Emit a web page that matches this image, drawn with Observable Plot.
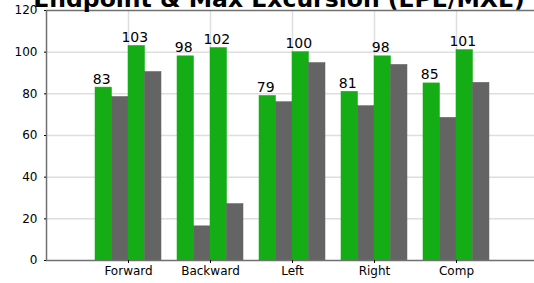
<!DOCTYPE html>
<html><head><meta charset="utf-8">
<script src="https://cdn.jsdelivr.net/npm/d3@7"></script>
<script src="https://cdn.jsdelivr.net/npm/@observablehq/plot@0.6"></script>
<style>
body{margin:0;background:#fff;}
#wrap{position:relative;width:534px;height:283px;overflow:hidden;font-family:"DejaVu Sans",Verdana,sans-serif;}
#title{position:absolute;left:0;top:-12px;width:558px;text-align:center;font-size:23.5px;line-height:23.5px;font-weight:bold;white-space:nowrap;color:#000;z-index:2}
#chart{position:absolute;left:0;top:0}
</style></head>
<body><div id="wrap"><div id="title">Endpoint &amp; Max Excursion (EPE/MXE)</div><div id="chart"></div></div>
<script>
const categories = ["Forward", "Backward", "Left", "Right", "Comp"];
const epe1 = [83, 98, 79, 81, 85];
const mxe1 = [78.5, 16.4, 76, 74.1, 68.5];
const epe2 = [103, 102, 100, 98, 101];
const mxe2 = [90.5, 27.1, 94.8, 93.9, 85.3];
const yTicks = [0, 20, 40, 60, 80, 100, 120];

const GREEN = "#15ad15", GRAY = "#646464";
const series = [
  {values: epe1, fill: GREEN, label: true},
  {values: mxe1, fill: GRAY, label: false},
  {values: epe2, fill: GREEN, label: true},
  {values: mxe2, fill: GRAY, label: false}
];
const edges = [0, 16.5, 33, 49.5, 66];
const marks = [
  Plot.ruleY(yTicks.slice(1, -1), {stroke: "#dedede", strokeWidth: 1.5}),
  Plot.gridX({stroke: "#dedede", strokeOpacity: 1, strokeWidth: 1.5}),
];
series.forEach((s, k) => {
  marks.push(Plot.barY(categories, {
    x: d => d, y: (d, i) => s.values[i], fill: s.fill, stroke: s.fill, strokeWidth: 0.5,
    insetLeft: edges[k], insetRight: 66 - edges[k + 1]
  }));
  if (s.label) marks.push(Plot.text(categories, {
    x: d => d, y: (d, i) => s.values[i], text: (d, i) => String(Math.round(s.values[i])),
    dx: -33 + (edges[k] + edges[k + 1]) / 2 - 2, dy: -4, lineAnchor: "bottom", fontSize: 14, fill: "#000"
  }));
});
marks.push(
  Plot.ruleY([yTicks[0], yTicks[yTicks.length - 1]], {stroke: "#707070", strokeWidth: 1.5}),
  Plot.ruleX([categories[0]], {dx: -82, y1: yTicks[0], y2: yTicks[yTicks.length - 1], stroke: "#707070", strokeWidth: 1.5}),
  Plot.axisX({tickSize: 3, tickPadding: 3, fontSize: 12, label: null, stroke: "#000"}),
  Plot.axisY({ticks: yTicks, tickSize: 2, tickPadding: 7, fontSize: 12, label: null, stroke: "#000"})
);

const chart = Plot.plot({
  width: 534, height: 283,
  marginTop: 10, marginBottom: 23, marginLeft: 46, marginRight: 0,
  style: {fontFamily: "'DejaVu Sans', Verdana, sans-serif", fontSize: "12px", color: "#000", background: "#fff"},
  x: {domain: categories, range: [46, 538], paddingInner: 0.195, paddingOuter: 0.5976, align: 0.5, round: false},
  y: {domain: [0, 120]},
  marks
});
document.getElementById("chart").appendChild(chart);
</script>
</body></html>
